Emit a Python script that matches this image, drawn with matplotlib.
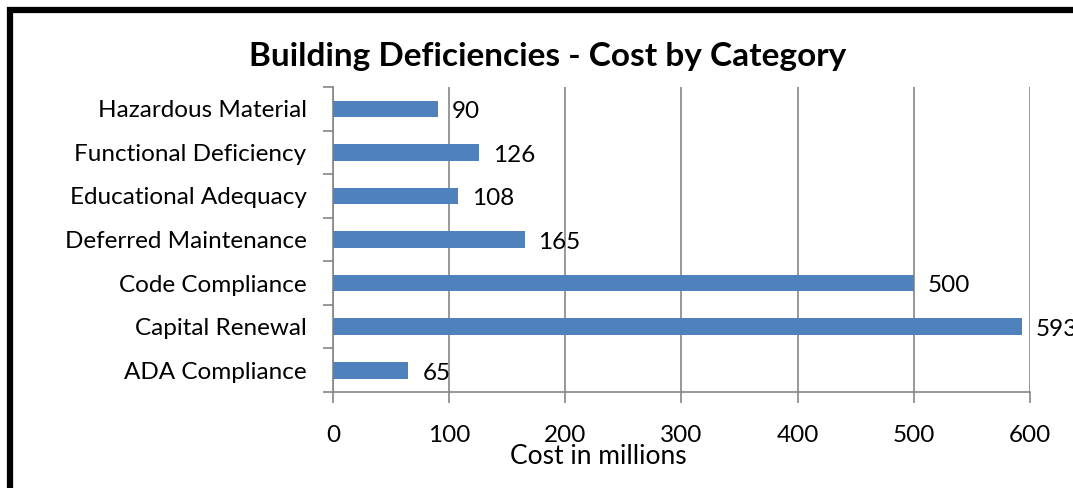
import matplotlib
matplotlib.use("Agg")
import matplotlib.pyplot as plt
from matplotlib.patches import Rectangle
import numpy as np

plt.rcParams['font.family'] = ['Lato', 'DejaVu Sans']

# Deficiency categories, bottom to top as drawn
categories = ['ADA Compliance', 'Capital Renewal', 'Code Compliance',
              'Deferred Maintenance', 'Educational Adequacy',
              'Functional Deficiency', 'Hazardous Material']
costs = [65, 593, 500, 165, 108, 126, 90]
xticks = [0, 100, 200, 300, 400, 500, 600]

bar_color = '#4F81BD'
grid_color = '#868686'

fig = plt.figure(figsize=(10.73, 4.88), dpi=100)
ax = fig.add_axes([0.3103, 0.1967, 0.6496, 0.625])

y = np.arange(len(categories))
ax.barh(y, costs, height=0.38, color=bar_color, zorder=3)

for yi, v in zip(y, costs):
    ax.annotate(str(v), xy=(v, yi), xytext=(10, -2), textcoords='offset points',
                va='center', ha='left', fontsize=17.5, clip_on=False)

ax.set_xlim(0, 600)
ax.set_ylim(-0.5, len(categories) - 0.5)
ax.set_xticks(xticks)
ax.set_xticklabels([str(t) for t in xticks])
ax.set_yticks(y)
ax.set_yticklabels(categories)
ax.set_yticks(np.arange(len(categories) + 1) - 0.5, minor=True)

ax.tick_params(axis='x', length=8, width=1.2, color=grid_color, pad=16, labelsize=17.5)
ax.tick_params(axis='y', which='major', length=0, pad=19, labelsize=17.5)
ax.tick_params(axis='y', which='minor', length=7, width=1.2, color=grid_color)

ax.grid(axis='x', color=grid_color, linewidth=1.2, zorder=0)
for side in ['top', 'right']:
    ax.spines[side].set_visible(False)
for side in ['left', 'bottom']:
    ax.spines[side].set_color(grid_color)
    ax.spines[side].set_linewidth(1.2)

ax.set_xlabel('Cost in millions', fontsize=19, va='center')
ax.xaxis.set_label_coords(0.38, -0.213)

fig.text(0.51, 0.885, 'Building Deficiencies - Cost by Category',
         ha='center', va='center', fontsize=24, fontweight='bold')

# black outline around the chart area
fig.patches.append(Rectangle((10 / 1073, -0.1), 1.2, 1 - 10 / 488 + 0.1,
                             transform=fig.transFigure, fill=False,
                             edgecolor='black', linewidth=4.5))

fig.savefig('out.png', dpi=100)
